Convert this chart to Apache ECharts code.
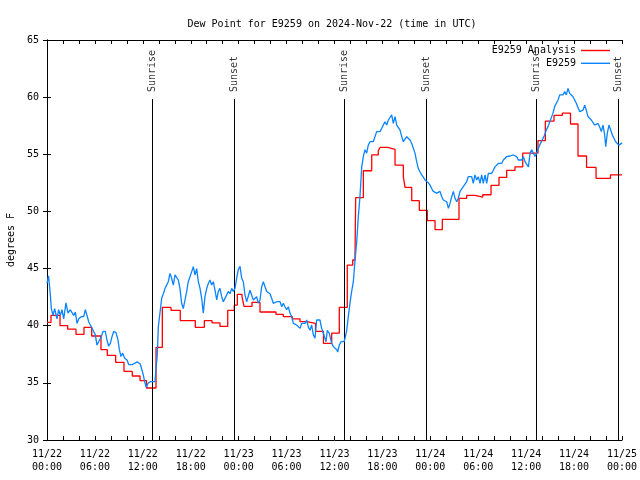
<!DOCTYPE html>
<html><head><meta charset="utf-8">
<script src="https://cdn.jsdelivr.net/npm/echarts@6/dist/echarts.min.js"></script>
<style>html,body{margin:0;padding:0;background:#fff}#c{width:640px;height:480px}</style>
</head><body><div id="c"></div>
<script>
const titleText = 'Dew Point for E9259 on 2024-Nov-22 (time in UTC)';
const yAxisName = 'degrees F';
const xTickLabels = ['11/22\n00:00','11/22\n06:00','11/22\n12:00','11/22\n18:00','11/23\n00:00','11/23\n06:00','11/23\n12:00','11/23\n18:00','11/24\n00:00','11/24\n06:00','11/24\n12:00','11/24\n18:00','11/25\n00:00'];
// hours since 11/22 00:00 UTC
const sunTimes = [13.19, 23.45, 37.23, 47.5, 61.27, 71.59];
const sunLabels = ['Sunrise','Sunset','Sunrise','Sunset','Sunrise','Sunset'];
const sunLineTop = 59.83;
const sunLabelBase = 60.45;

const analysisName = 'E9259 Analysis';
const analysisTimes = [0,0.5,1.63,2.59,3.63,4.63,5.6,6.76,7.55,8.6,9.64,10.68,11.65,12.46,13.65,14.44,15.53,16.69,18.57,19.7,20.66,21.66,22.63,23.45,23.83,24.42,24.67,25.67,26.67,28.67,29.59,30.72,31.68,32.5,33.62,34.62,35.65,36.6,37.6,38.28,38.57,38.65,39.61,40.66,41.48,41.7,42.66,43.58,44.62,44.83,45.67,46.62,47.62,48.59,49.5,51.59,52.55,53.59,54.56,55.6,56.6,57.56,58.6,59.57,61.48,62.4,63.49,64.53,65.55,66.49,67.56,68.75,70.56,72];
const analysisValues = [40.3,40.9,40.0,39.7,39.25,39.85,39.1,37.9,37.4,36.8,36.0,35.6,35.2,34.55,38.1,41.6,41.35,40.45,39.86,40.45,40.25,39.94,41.35,41.8,42.75,42.55,41.7,42.05,41.2,41.0,40.8,40.6,40.35,40.2,39.5,38.46,39.35,41.6,45.3,45.75,46.2,51.2,53.56,54.94,55.3,55.6,55.44,54.06,53.04,52.1,50.94,50.1,49.2,48.4,49.3,51.15,51.4,51.26,51.46,52.28,52.98,53.6,53.9,55.1,56.2,57.9,58.4,58.6,57.65,54.85,53.85,52.9,53.2,53.2];

const obsName = 'E9259';
const obsTimes = [0,0.2,0.42,0.54,0.75,0.96,1.25,1.46,1.67,1.88,2.09,2.38,2.63,2.92,3.13,3.34,3.55,3.76,3.97,4.3,4.6,4.8,5.01,5.22,5.43,5.63,5.84,6.05,6.26,6.47,6.8,7.01,7.3,7.51,7.72,7.93,8.14,8.35,8.64,8.89,9.06,9.27,9.48,9.73,10.02,10.23,10.43,10.64,10.98,11.27,11.48,11.68,11.9,12.02,12.23,12.43,12.65,12.93,13.26,
13.52,13.65,13.81,13.94,14.15,14.36,14.57,14.78,14.99,15.19,15.4,15.61,15.82,16.03,16.24,16.44,16.65,16.86,17.07,17.28,17.49,17.69,17.9,18.12,18.32,18.53,18.74,18.95,19.16,19.37,19.57,19.78,20.0,20.2,20.41,20.62,20.82,21.04,21.25,21.45,21.66,21.87,22.08,22.29,22.5,22.7,22.92,23.13,23.33,23.54,23.75,23.95,24.17,24.38,24.58,
24.79,25.0,25.21,25.42,25.83,26.25,26.46,26.67,26.88,27.09,27.51,27.92,28.13,28.34,28.55,28.76,29.18,29.39,29.59,29.8,30.01,30.22,30.43,30.64,30.85,31.05,31.26,31.47,31.68,31.89,32.1,32.31,32.52,32.72,32.93,33.14,33.35,33.56,33.77,33.98,34.18,34.39,34.6,34.81,34.94,35.1,35.35,35.65,35.86,36.06,36.28,36.4,36.6,36.81,37.02,37.19,
37.32,37.53,37.73,37.94,38.15,38.36,38.57,38.78,38.98,39.19,39.41,39.61,39.82,40.03,40.23,40.45,40.66,40.86,41.07,41.28,41.49,41.7,41.91,42.11,42.32,42.54,42.74,42.95,43.16,43.36,43.58,43.79,43.99,44.2,44.42,44.62,44.83,45.04,45.24,45.45,45.67,45.87,46.08,46.29,46.49,46.71,46.92,47.12,47.33,47.54,47.75,47.96,
48.17,48.37,48.59,48.8,49.0,49.21,49.42,49.63,49.84,50.05,50.26,50.46,50.68,50.88,51.09,51.3,51.5,51.72,51.93,52.13,52.34,52.55,52.75,52.97,53.18,53.38,53.59,53.8,54.0,54.22,54.43,54.63,54.85,55.06,55.26,55.68,55.89,56.1,56.31,56.51,56.72,56.93,57.14,57.35,57.56,57.76,57.98,58.19,58.39,58.6,58.81,59.01,59.23,59.44,59.64,59.86,60.07,60.28,
60.49,60.69,60.9,61.11,61.32,61.48,61.69,61.9,62.11,62.32,62.52,62.73,62.95,63.15,63.36,63.57,63.78,63.99,64.2,64.4,64.61,64.83,65.03,65.24,65.45,65.65,65.87,66.08,66.28,66.49,66.7,66.91,67.12,67.33,67.53,67.74,67.95,68.16,68.37,68.58,68.78,68.99,69.2,69.41,69.62,69.83,69.96,70.16,70.37,70.58,70.78,70.99,71.2,71.41,71.62,71.83,72];
const obsValues = [43.7,44.35,42.7,41.5,40.9,41.5,40.6,41.4,40.9,41.4,40.6,42.0,41.1,41.4,41.15,40.9,41.2,40.2,40.6,40.8,40.8,41.4,40.9,40.35,40.06,39.8,39.5,39.2,38.3,38.6,39.04,39.5,39.5,38.75,38.2,38.46,39.04,39.5,39.4,38.75,37.9,37.3,37.6,37.15,37.0,36.6,36.7,36.6,36.7,36.85,37.0,36.65,36.5,35.8,35.1,34.6,34.96,35.1,35.1,
35.1,36.3,37.44,39.9,40.0,42.4,42.8,43.27,43.4,43.85,44.58,44.15,43.56,44.44,44.5,44.0,43.27,41.96,41.5,42.25,43.0,43.85,44.0,44.73,45.16,44.44,45.0,43.85,43.27,42.4,41.1,42.54,43.27,43.7,44.0,43.56,43.85,43.1,42.25,43.0,43.27,42.54,42.1,42.1,42.7,43.0,42.8,43.27,43.0,43.27,44.15,44.9,45.2,44.15,43.85,
42.7,42.1,42.1,43.1,42.25,42.54,41.96,42.25,43.4,43.85,43.0,42.8,42.4,41.96,41.8,42.1,42.1,41.66,41.96,41.66,41.4,41.66,41.1,40.8,40.2,40.35,40.06,39.9,39.77,40.2,40.06,40.2,40.5,39.9,39.6,40.06,39.2,38.9,40.5,40.35,40.5,39.77,39.6,38.9,38.6,39.6,39.33,38.46,38.17,38.0,37.9,37.7,38.3,38.6,38.46,38.6,
38.9,39.6,40.8,42.0,43.0,43.85,45.75,47.3,49.54,51.3,53.9,54.8,55.4,55.1,55.8,56.1,56.25,56.1,56.25,56.98,56.83,56.98,57.27,57.4,57.85,57.56,58.0,57.85,58.44,57.7,58.3,57.56,57.4,57.13,56.54,56.1,56.25,56.54,56.4,56.25,55.95,55.95,55.1,54.36,53.77,53.45,53.2,53.0,52.75,52.9,52.5,52.3,
52.0,51.75,51.87,51.6,51.44,51.75,51.3,51.0,51.15,50.85,50.27,50.7,51.3,51.75,51.15,50.85,51.15,51.75,51.75,52.17,52.3,52.6,53.04,53.2,53.04,52.46,53.2,52.75,53.04,52.46,53.2,52.46,53.2,52.46,53.33,53.33,53.6,53.9,54.06,54.2,54.36,54.2,54.5,54.65,54.8,54.94,54.85,54.94,54.94,55.1,54.8,54.5,54.65,54.5,54.8,54.36,54.5,53.9,
55.1,55.4,55.4,54.8,54.94,55.4,55.8,56.1,56.25,56.7,57.13,57.4,57.85,58.0,58.6,59.17,59.3,59.75,60.2,60.33,60.2,60.48,60.2,60.77,60.33,60.2,60.04,59.9,59.46,59.3,58.73,58.6,58.87,59.3,58.87,58.3,58.3,58.0,58.15,57.56,57.4,57.7,57.4,56.98,57.56,56.7,55.66,56.83,57.56,57.13,56.7,56.4,56.1,55.95,55.8,55.66,56.0];

const FONT = 'DejaVu Sans Mono';
const zip = (a, b) => a.map((t, i) => [t, b[i]]);

const chart = echarts.init(document.getElementById('c'), null, {renderer: 'canvas'});
const xCommon = {type: 'value', min: 0, max: 72, interval: 6,
  axisLine: {show: true, lineStyle: {color: '#000', width: 1}},
  axisTick: {show: true, inside: true, length: 4, lineStyle: {color: '#000'}},
  minorTick: {show: true, splitNumber: 3, length: 4, lineStyle: {color: '#000'}},
  splitLine: {show: false}};
const yCommon = {type: 'value', min: 30, max: 65, interval: 5,
  axisLine: {show: true, lineStyle: {color: '#000', width: 1}},
  axisTick: {show: true, inside: true, length: 4, lineStyle: {color: '#000'}},
  splitLine: {show: false}};

chart.setOption({
  animation: false,
  backgroundColor: '#fff',
  title: {text: titleText, left: 327, top: 14, textAlign: 'center',
    textStyle: {fontFamily: FONT, fontSize: 10, fontWeight: 'normal', color: '#000'}},
  legend: {data: [analysisName, obsName], orient: 'vertical', right: 30, top: 45.5, align: 'right',
    icon: 'rect', itemWidth: 29, itemHeight: 1.4, itemGap: 2.8, padding: 0,
    textStyle: {fontFamily: FONT, fontSize: 10, color: '#000'}},
  grid: {left: 47, right: 18, top: 40, bottom: 40, containLabel: false, outerBoundsMode: 'none'},
  xAxis: [
    Object.assign({}, xCommon, {position: 'bottom',
      axisLabel: {show: true, margin: 8, fontFamily: FONT, fontSize: 10, color: '#000', lineHeight: 13,
        formatter: v => xTickLabels[Math.round(v / 6)] || ''}}),
    Object.assign({}, xCommon, {position: 'top', axisLabel: {show: false}})
  ],
  yAxis: [
    Object.assign({}, yCommon, {position: 'left', name: yAxisName, nameLocation: 'middle', nameRotate: 90, nameGap: 31,
      nameTextStyle: {fontFamily: FONT, fontSize: 10, color: '#000'},
      axisLabel: {show: true, margin: 8, fontFamily: FONT, fontSize: 10, color: '#000'}}),
    Object.assign({}, yCommon, {position: 'right', axisLabel: {show: false}})
  ],
  series: [
    {name: 'sun', type: 'scatter', symbolSize: 0, silent: true, z: 3,
      data: sunTimes.map((t, i) => ({value: [t, sunLabelBase], name: sunLabels[i]})),
      label: {show: true, position: [0, 0], rotate: 90, align: 'left', verticalAlign: 'middle',
        formatter: p => p.name, fontFamily: FONT, fontSize: 10, color: '#000'},
      markLine: {silent: true, symbol: ['none', 'none'], label: {show: false},
        lineStyle: {color: '#000', width: 1, type: 'solid'},
        data: sunTimes.map(t => [{coord: [t, 30]}, {coord: [t, sunLineTop]}])}},
    {name: analysisName, type: 'line', step: 'end', symbol: 'none', z: 4,
      lineStyle: {color: '#ff0000', width: 1.3}, itemStyle: {color: '#ff0000'},
      data: zip(analysisTimes, analysisValues)},
    {name: obsName, type: 'line', symbol: 'none', z: 5,
      lineStyle: {color: '#0a84ff', width: 1.3}, itemStyle: {color: '#0a84ff'},
      data: zip(obsTimes, obsValues)}
  ]
});
</script></body></html>
